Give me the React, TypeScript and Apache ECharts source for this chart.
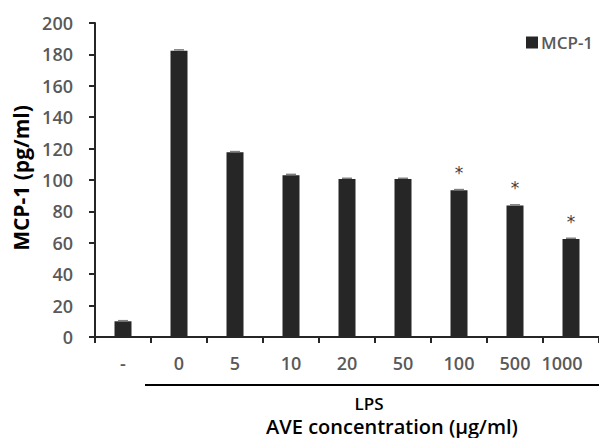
import React, { useEffect, useRef } from "react";
import * as echarts from "echarts";

const categories = ["-", "0", "5", "10", "20", "50", "100", "500", "1000"];
const mcp1Values = [10, 182.3, 117.6, 103.1, 100.6, 100.6, 93.4, 83.7, 62.4];
const mcp1Errors = [0.4, 0.6, 0.5, 0.5, 0.5, 0.5, 0.5, 0.5, 0.5];
const significant = [false, false, false, false, false, false, true, true, true];
const yTicks = { min: 0, max: 200, interval: 20 };
const seriesName = "MCP-1";
const yTitle = "MCP-1 (pg/ml)";
const groupLabel = "LPS";
const xTitle = "AVE concentration (\u03bcg/ml)";

const FONT = "Open Sans";

export default function App() {
  const ref = useRef<HTMLDivElement>(null);
  useEffect(() => {
    if (!ref.current) return;
    const chart = echarts.init(ref.current, null, { renderer: "svg" });
    const last = categories.length - 1;
    chart.setOption({
      animation: false,
      backgroundColor: "#ffffff",
      textStyle: { fontFamily: FONT },
      grid: { left: 95, top: 23, width: 513, bottom: 101, containLabel: false },
      legend: {
        left: 521,
        top: 29,
        icon: "rect",
        itemWidth: 12,
        itemHeight: 12,
        itemGap: 5,
        data: [seriesName],
        textStyle: { color: "#595959", fontSize: 17, fontWeight: 600, fontFamily: FONT, padding: [0, 0, 0, -2] },
      },
      xAxis: {
        type: "category",
        data: categories.map((c, i) =>
          i === last ? { value: c, textStyle: { padding: [0, 18, 0, 0] } } : c
        ),
        boundaryGap: true,
        axisLine: { lineStyle: { color: "#262626", width: 2 } },
        axisTick: { show: true, alignWithLabel: false, length: 6, lineStyle: { color: "#262626", width: 2 } },
        axisLabel: { color: "#595959", fontSize: 18, fontWeight: 600, fontFamily: FONT, margin: 17, interval: 0 },
        splitLine: { show: false },
      },
      yAxis: {
        type: "value",
        min: yTicks.min,
        max: yTicks.max,
        interval: yTicks.interval,
        name: yTitle,
        nameLocation: "middle",
        nameGap: 58,
        nameTextStyle: { color: "#000000", fontSize: 21, fontWeight: "bold", fontFamily: FONT, padding: [0, 0, 0, 4] },
        axisLine: { show: true, lineStyle: { color: "#262626", width: 2 } },
        axisTick: { show: true, length: 6, lineStyle: { color: "#262626", width: 2 } },
        axisLabel: { color: "#595959", fontSize: 18, fontWeight: 600, fontFamily: FONT, margin: 22 },
        splitLine: { show: false },
      },
      series: [
        {
          name: seriesName,
          type: "bar",
          barWidth: 17,
          itemStyle: { color: "#262626" },
          data: mcp1Values.map((v, i) => ({
            value: v,
            label: {
              show: significant[i],
              position: "top",
              distance: 9,
              formatter: "*",
              color: "#404040",
              fontSize: 17,
              fontFamily: "DejaVu Sans",
            },
          })),
        },
        {
          type: "custom",
          name: "err",
          silent: true,
          z: 5,
          data: mcp1Values.map((v, i) => [i, v, mcp1Errors[i]]),
          renderItem: (params: any, api: any) => {
            const x = api.value(0);
            const v = api.value(1);
            const e = api.value(2);
            const top = api.coord([x, v + e]);
            const bot = api.coord([x, v]);
            const hw = 5;
            return {
              type: "group",
              children: [
                { type: "line", shape: { x1: top[0], y1: top[1], x2: bot[0], y2: bot[1] }, style: { stroke: "#7f7f7f", lineWidth: 1 } },
                { type: "line", shape: { x1: top[0] - hw, y1: top[1], x2: top[0] + hw, y2: top[1] }, style: { stroke: "#7f7f7f", lineWidth: 1.5 } },
              ],
            };
          },
        },
      ],
      graphic: [
        { type: "line", shape: { x1: 145, y1: 385, x2: 599, y2: 385 }, style: { stroke: "#000000", lineWidth: 2 } },
        {
          type: "text",
          x: 369,
          y: 403,
          style: { text: groupLabel, fill: "#000000", font: `600 17px ${FONT}`, lineHeight: 18, textAlign: "center", textVerticalAlign: "middle" },
        },
        {
          type: "text",
          x: 392,
          y: 426,
          style: { text: xTitle, fill: "#000000", font: `600 20px ${FONT}`, lineHeight: 22, textAlign: "center", textVerticalAlign: "middle" },
        },
      ],
    });
    return () => chart.dispose();
  }, []);
  return <div ref={ref} style={{ position: "fixed", left: 0, top: 0, width: 599, height: 438 }} />;
}
